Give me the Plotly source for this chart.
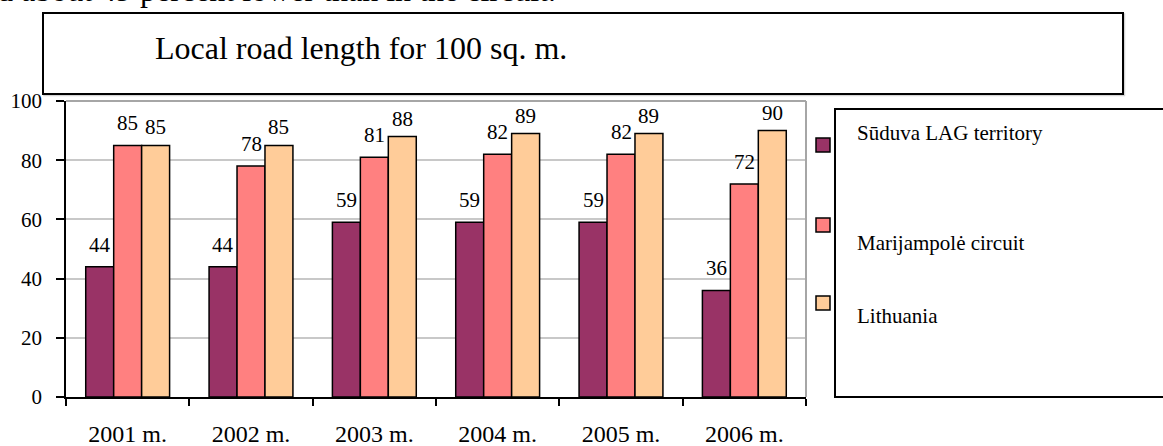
import plotly.graph_objects as go

# --- data -----------------------------------------------------------------
years = ["2001 m.", "2002 m.", "2003 m.", "2004 m.", "2005 m.", "2006 m."]
series_names = ["Sūduva LAG territory", "Marijampolė circuit", "Lithuania"]
suduva = [44, 44, 59, 59, 59, 36]
marijampole = [85, 78, 81, 82, 82, 72]
lithuania = [85, 85, 88, 89, 89, 90]

title_text = "Local road length for 100 sq. m."
lead_text = "d about 49 percent lower than in the circuit."

# --- styling ----------------------------------------------------------------
FONT = "Liberation Serif"
colors = ["#993366", "#FF8080", "#FFCC99"]
W, H = 1163, 446
L, R, T, B = 66, 806, 101, 397      # plot area in pixels
BARGAP = 0.32


def px(x):
    return (x - L) / (R - L)


def py(y):
    return (B - y) / (B - T)


fig = go.Figure()
all_series = [suduva, marijampole, lithuania]
for name, vals, col in zip(series_names, all_series, colors):
    fig.add_trace(go.Bar(
        x=years, y=vals, name=name,
        marker=dict(color=col, line=dict(color="black", width=1.5)),
        showlegend=False,
    ))

# value labels above each bar
cat_w = (R - L) / len(years)
bar_w = cat_w * (1 - BARGAP) / len(all_series)
label_lift = [8, 8, 4]
annotations = []
for i, vals in enumerate(all_series):
    dx = (i - (len(all_series) - 1) / 2) * bar_w
    for yr, v in zip(years, vals):
        annotations.append(dict(
            x=yr, y=v, xref="x", yref="y", text=str(v), showarrow=False,
            xshift=dx, yshift=label_lift[i], yanchor="bottom",
            font=dict(family=FONT, size=21, color="black"),
        ))

# heading and clipped lead line of text
annotations.append(dict(
    x=px(-5), y=py(-10), xref="paper", yref="paper", text=lead_text,
    showarrow=False, xanchor="left", yanchor="middle",
    font=dict(family=FONT, size=32, color="black"),
))
annotations.append(dict(
    x=px(153), y=py(48), xref="paper", yref="paper", text=title_text,
    showarrow=False, xanchor="left", yanchor="middle",
    font=dict(family=FONT, size=32, color="black"),
))

# legend entries
marker_y = [145, 225, 303]
text_y = [133, 243, 316]
shapes = []
for name, col, my, ty in zip(series_names, colors, marker_y, text_y):
    shapes.append(dict(
        type="rect", xref="paper", yref="paper",
        x0=px(816), x1=px(830), y0=py(my + 7), y1=py(my - 7),
        fillcolor=col, line=dict(color="black", width=1.5),
    ))
    annotations.append(dict(
        x=px(855), y=py(ty), xref="paper", yref="paper", text=name,
        showarrow=False, xanchor="left", yanchor="middle",
        font=dict(family=FONT, size=21, color="black"),
    ))

# boxes: heading frame (with soft shadow), legend frame, plot-area border
shapes += [
    dict(type="rect", xref="paper", yref="paper",
         x0=px(44), x1=px(1124.5), y0=py(95.5), y1=py(14),
         line=dict(color="#d4d4d4", width=1.5), layer="below"),
    dict(type="rect", xref="paper", yref="paper",
         x0=px(43), x1=px(1123), y0=py(94), y1=py(13),
         fillcolor="white", line=dict(color="black", width=2)),
    dict(type="rect", xref="paper", yref="paper",
         x0=px(835), x1=px(1180), y0=py(397), y1=py(109),
         line=dict(color="black", width=2)),
    dict(type="line", xref="paper", yref="paper",
         x0=0, x1=1, y0=1, y1=1, line=dict(color="#a6a6a6", width=2)),
    dict(type="line", xref="paper", yref="paper",
         x0=1, x1=1, y0=0, y1=1, line=dict(color="#a6a6a6", width=2)),
]

fig.update_layout(
    width=W, height=H,
    margin=dict(l=L, r=W - R, t=T, b=H - B, pad=0, autoexpand=False),
    paper_bgcolor="white", plot_bgcolor="white",
    barmode="group", bargap=BARGAP, bargroupgap=0,
    font=dict(family=FONT, color="black"),
    annotations=annotations, shapes=shapes,
    showlegend=False,
)
fig.update_xaxes(
    type="category", showline=True, linecolor="black", linewidth=1.5,
    ticks="outside", tickson="boundaries", ticklen=7, tickwidth=1.5,
    tickcolor="black", tickfont=dict(family=FONT, size=24),
    ticklabelstandoff=14, showgrid=False, automargin=False,
)
fig.update_yaxes(
    range=[0, 100], dtick=20, showline=True, linecolor="black", linewidth=1.5,
    ticks="outside", ticklen=8, tickwidth=1.5, tickcolor="black",
    tickfont=dict(family=FONT, size=21), ticklabelstandoff=10,
    showgrid=True, gridcolor="#c8c8c8", gridwidth=1.5, zeroline=False,
    automargin=False,
)

fig.write_html("out.html")
